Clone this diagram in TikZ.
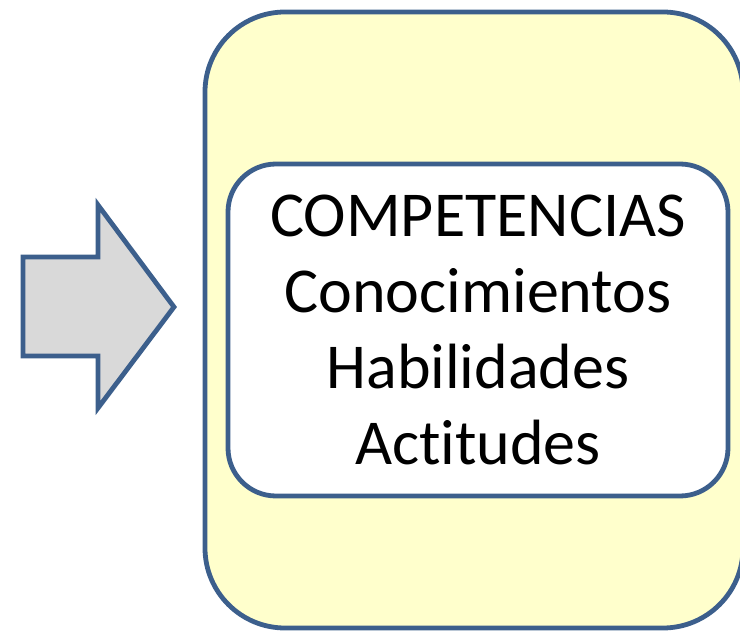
\documentclass[tikz,border=0pt]{standalone}
\usepackage{fontspec}
\setmainfont[Ligatures=NoCommon]{Carlito}
\definecolor{framecol}{HTML}{3C5F8C}
\definecolor{paleyellow}{HTML}{FFFFCC}
\definecolor{arrowgray}{HTML}{D9D9D9}
\begin{document}
\begin{tikzpicture}[x=1pt,y=-1pt,
  outerbox/.style={draw=framecol,line width=4.8pt,fill=paleyellow,rounded corners=80pt,
    minimum width=538pt,minimum height=616pt,inner sep=0pt},
  innerbox/.style={draw=framecol,line width=4.8pt,fill=white,rounded corners=48pt,
    minimum width=500pt,minimum height=332pt,inner sep=0pt,align=center,
    font=\fontsize{64}{76}\selectfont}]
  \useasboundingbox (0,0) rectangle (740,631);
  % yellow frame, cut off at right and bottom
  \node[outerbox] (outer) at (474,320) {};
  \node[innerbox] (inner) at (478,330) {COMPETENCIAS\\Conocimientos\\Habilidades\\Actitudes};
  % block arrow pointing to the frame
  \draw [framecol,line width=4.8pt,fill=arrowgray,line join=miter]
    (23,257) -- (98,257) -- (98,205) -- (174,307) -- (98,408) -- (98,356) -- (23,356) -- cycle;
\end{tikzpicture}
\end{document}
